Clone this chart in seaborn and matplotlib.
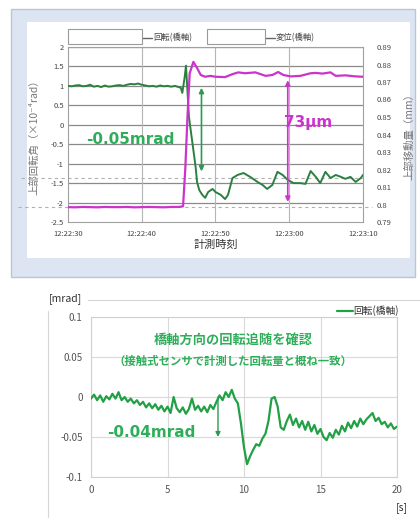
import matplotlib
matplotlib.use("Agg")
import matplotlib.pyplot as plt
from matplotlib.patches import Rectangle
from matplotlib.lines import Line2D
import seaborn as sns
import pandas as pd

# ---------------- upper chart: rotation / displacement vs. clock time ----------------
time_ticks = [0, 10, 20, 30, 40]
time_labels = ["12:22:30", "12:22:40", "12:22:50", "12:23:00", "12:23:10"]

rot_t = [0, 0.5, 1, 1.5, 2, 2.5, 3, 3.5, 4, 4.5, 5, 5.5, 6, 6.5, 7, 7.5, 8, 8.5, 9,
         9.5, 10, 10.5, 11, 11.5, 12, 12.5, 13, 13.5, 14, 14.5, 15, 15.3, 15.5, 15.8,
         16.0, 16.4, 17.0, 17.3, 17.5, 17.8, 18.2, 18.6, 19.0, 19.6, 20.0, 20.7, 21.3,
         21.7, 22.3, 23.0, 23.8, 24.7, 25.7, 26.4, 27.0, 27.7, 28.4, 29.1, 29.8, 30.6,
         31.5, 32.2, 32.9, 33.6, 34.2, 34.9, 35.6, 36.3, 37.0, 37.6, 38.3, 39.0, 39.7, 40.0]
rot_val = [1.00, 0.99, 1.01, 1.02, 0.99, 1.00, 1.03, 0.98, 1.00, 0.97, 1.01, 0.98, 0.99,
           1.01, 1.02, 1.00, 1.03, 1.05, 1.04, 1.06, 1.03, 1.01, 0.99, 1.00, 0.98, 1.01,
           0.99, 1.00, 0.98, 1.00, 0.97, 0.95, 0.82, 1.20, 1.52, 0.20, -0.65, -1.08,
           -1.47, -1.68, -1.80, -1.88, -1.73, -1.65, -1.73, -1.80, -1.91, -1.80, -1.37,
           -1.29, -1.24, -1.34, -1.47, -1.55, -1.65, -1.55, -1.21, -1.29, -1.42, -1.50,
           -1.50, -1.52, -1.19, -1.34, -1.50, -1.21, -1.37, -1.29, -1.34, -1.39, -1.34,
           -1.47, -1.37, -1.29]

disp_t = [0, 1, 2, 3, 4, 5, 6, 7, 8, 9, 10, 11, 12, 13, 14, 15, 15.6, 15.9, 16.2, 16.5,
          17.0, 17.5, 18.0, 18.6, 19.3, 20.0, 21.3, 22.3, 23.1, 24.0, 25.4, 26.8, 27.7,
          28.5, 29.2, 30.2, 31.5, 32.9, 33.6, 34.5, 35.6, 36.3, 37.6, 39.0, 40.0]
disp_val = [0.7985, 0.7984, 0.7986, 0.7985, 0.7984, 0.7986, 0.7985, 0.7985, 0.7986,
            0.7984, 0.7985, 0.7986, 0.7985, 0.7984, 0.7986, 0.7986, 0.7990, 0.8200,
            0.8500, 0.8750, 0.8815, 0.8780, 0.8740, 0.8730, 0.8735, 0.8730, 0.8728,
            0.8745, 0.8755, 0.8750, 0.8755, 0.8735, 0.8740, 0.8757, 0.8740, 0.8732,
            0.8735, 0.8750, 0.8752, 0.8748, 0.8755, 0.8735, 0.8738, 0.8732, 0.8730]

# ---------------- lower chart: rotation vs. elapsed seconds ----------------
sec_t = [round(i * 0.2, 1) for i in range(101)]
sec_rot = [-0.002, 0.003, -0.004, 0.002, -0.006, 0.001, -0.003, 0.004, -0.002, 0.006,
           -0.004, 0.000, -0.006, -0.002, -0.008, -0.004, -0.010, -0.006, -0.013, -0.008,
           -0.014, -0.009, -0.016, -0.011, -0.018, -0.012, -0.020, 0.000, -0.014, -0.019,
           -0.013, -0.021, -0.015, -0.002, -0.016, -0.011, -0.018, -0.012, -0.019, -0.010,
           -0.015, -0.006, 0.002, -0.004, 0.006, 0.000, 0.009, -0.002, -0.008, -0.033,
           -0.063, -0.084, -0.074, -0.066, -0.059, -0.061, -0.052, -0.046, -0.030, -0.002,
           0.000, -0.012, -0.038, -0.041, -0.030, -0.022, -0.035, -0.027, -0.038, -0.030,
           -0.041, -0.031, -0.043, -0.035, -0.046, -0.040, -0.050, -0.054, -0.045, -0.051,
           -0.041, -0.047, -0.036, -0.043, -0.032, -0.039, -0.030, -0.037, -0.027, -0.034,
           -0.028, -0.024, -0.020, -0.030, -0.026, -0.034, -0.031, -0.038, -0.033, -0.040,
           -0.037]

rot_step = 0.04          # value written next to the lower arrow [mrad]
disp_step_um = 73        # value written next to the upper magenta arrow [µm]

W, H = 420, 518
sns.set_theme(style="white")
plt.rcParams["font.family"] = ["Noto Sans CJK JP", "DejaVu Sans"]
plt.rcParams["axes.unicode_minus"] = False

fig = plt.figure(figsize=(W / 100, H / 100), dpi=100)
fig.patch.set_facecolor("white")


def px_axes(l, t, r, b):
    return fig.add_axes([l / W, 1 - b / H, (r - l) / W, (b - t) / H])


def px_rect(l, t, r, b, **kw):
    fig.patches.append(Rectangle((l / W, 1 - b / H), (r - l) / W, (b - t) / H,
                                 transform=fig.transFigure, **kw))


# panel backgrounds (behind every axes)
px_rect(11, 9, 415, 277, facecolor="#dde5f2", edgecolor="#b9c5da", lw=1.0, zorder=-3)
px_rect(27, 22, 410, 258, facecolor="white", edgecolor="none", zorder=-2)
px_rect(48, 300, 430, 540, facecolor="none", edgecolor="#d6d6d6", lw=0.8, zorder=-2)

GREEN_DARK = "#2b8040"
MAGENTA = "#cc33cc"
GREEN_TXT = "#2fae5a"

# ---------------- upper chart ----------------
ax1 = px_axes(68, 47, 363, 222)
ax1.set_facecolor("white")
ax2 = ax1.twinx()

df_rot = pd.DataFrame({"t": rot_t, "v": rot_val})
df_disp = pd.DataFrame({"t": disp_t, "v": disp_val})

ax1.set_xlim(0, 40)
ax1.set_ylim(-2.5, 2.0)
ax2.set_ylim(0.79, 0.89)

for y in [-2.0, -1.5, -1.0, -0.5, 0, 0.5, 1.0, 1.5, 2.0]:
    ax1.axhline(y, color="#8a8a8a", lw=0.9, zorder=1)
for x in [10, 20, 30]:
    ax1.axvline(x, color="#b5b5b5", lw=0.8, zorder=1)
ax1.axhline(-1.37, xmin=-0.16, xmax=1.0, color="#b0b0b0", lw=0.8, ls=(0, (3, 3)),
            clip_on=False, zorder=1)
ax1.axhline(-2.11, xmin=-0.17, xmax=1.03, color="#b0b0b0", lw=0.8, ls=(0, (3, 3)),
            clip_on=False, zorder=1)

sns.lineplot(data=df_disp, x="t", y="v", ax=ax2, color=MAGENTA, lw=1.6, zorder=3)
sns.lineplot(data=df_rot, x="t", y="v", ax=ax1, color=GREEN_DARK, lw=1.4, zorder=4)

ax1.set_xticks(time_ticks)
ax1.set_xticklabels(time_labels)
ax1.set_yticks([2, 1.5, 1, 0.5, 0, -0.5, -1, -1.5, -2, -2.5])
ax1.set_yticklabels(["2", "1.5", "1", "0.5", "0", "-0.5", "-1", "-1.5", "-2", "-2.5"])
ax2.set_yticks([0.79 + 0.01 * i for i in range(11)])
ax2.set_yticklabels([f"{0.79 + 0.01 * i:.2f}".rstrip("0") for i in range(11)])
for a in (ax1, ax2):
    a.tick_params(length=0, labelsize=5.5, labelcolor="#444444", pad=3)
ax1.tick_params(axis="x", pad=6)
ax2.tick_params(axis="y", pad=10)
for s in ax1.spines.values():
    s.set_color("#a0a0a0")
    s.set_linewidth(0.8)
for s in ax2.spines.values():
    s.set_visible(False)

ax1.set_xlabel("計測時刻", fontsize=8, color="#333333", labelpad=1)
ax1.set_ylabel("上部回転角（×10⁻⁴rad）", fontsize=7.5, color="#777777", labelpad=8)
ax2.set_ylabel("上部移動量（mm）", fontsize=7.5, color="#777777", rotation=90, labelpad=9)

# arrows and values
ax1.annotate("", xy=(18.1, -1.20), xytext=(18.1, 0.95),
             arrowprops=dict(arrowstyle="<|-|>", color="#2a9a55", lw=1.2,
                             mutation_scale=7, shrinkA=0, shrinkB=0), zorder=6)
ax1.text(8.4, -0.39, "-0.05mrad", color=GREEN_TXT, fontsize=11, fontweight="bold",
         ha="center", va="center", family=["DejaVu Sans"], zorder=6)
ax2.annotate("", xy=(29.8, 0.8015), xytext=(29.8, 0.871),
             arrowprops=dict(arrowstyle="<|-|>", color=MAGENTA, lw=1.2,
                             mutation_scale=7, shrinkA=0, shrinkB=0), zorder=6)
ax2.text(32.6, 0.8466, f"{disp_step_um}µm", color=MAGENTA, fontsize=11,
         fontweight="bold", ha="center", va="center", family=["DejaVu Sans"], zorder=6)

# legend row of the upper chart
px_rect(68, 29, 142, 44, facecolor="none", edgecolor="#9a9a9a", lw=0.8, zorder=2)
px_rect(207, 29, 265, 44, facecolor="none", edgecolor="#9a9a9a", lw=0.8, zorder=2)
for (x0, x1, label) in [(142, 152, "回転(橋軸)"), (265, 275, "変位(橋軸)")]:
    fig.add_artist(Line2D([x0 / W, x1 / W], [1 - 38 / H, 1 - 38 / H],
                          color="#666666", lw=1.0, transform=fig.transFigure))
    fig.text((x1 + 1) / W, 1 - 38 / H, label, fontsize=6, color="#444444",
             ha="left", va="center")

# ---------------- lower chart ----------------
ax3 = px_axes(91, 317, 397, 477)
ax3.set_facecolor("white")
df_sec = pd.DataFrame({"t": sec_t, "v": sec_rot})
ax3.set_xlim(0, 20)
ax3.set_ylim(-0.1, 0.1)
ax3.set_xticks([0, 5, 10, 15, 20])
ax3.set_yticks([0.1, 0.05, 0, -0.05, -0.1])
ax3.set_yticklabels(["0.1", "0.05", "0", "-0.05", "-0.1"])
ax3.grid(True, color="#d9d9d9", lw=0.8)
for s in ax3.spines.values():
    s.set_color("#d0d0d0")
    s.set_linewidth(0.8)
ax3.tick_params(length=0, labelsize=7, labelcolor="#555555", pad=6)
sns.lineplot(data=df_sec, x="t", y="v", ax=ax3, color="#22a045", lw=1.6, zorder=3,
             label="回転(橋軸)")
ax3.set_xlabel("")
ax3.set_ylabel("")
leg = ax3.legend(loc="lower right", bbox_to_anchor=(1.02, 0.98), frameon=False,
                 fontsize=7, handlelength=1.6, handletextpad=0.1, borderaxespad=0)
for t in leg.get_texts():
    t.set_color("#333333")

ax3.annotate("", xy=(8.3, -0.05), xytext=(8.3, 0.0),
             arrowprops=dict(arrowstyle="-|>", color="#2a9a55", lw=1.0,
                             mutation_scale=7, shrinkA=0, shrinkB=0), zorder=6)
ax3.text(3.95, -0.044, f"-{rot_step:.2f}mrad", color=GREEN_TXT, fontsize=11,
         fontweight="bold", ha="center", va="center", family=["DejaVu Sans"], zorder=6)
ax3.text(9.3, 0.072, "橋軸方向の回転追随を確認", color=GREEN_TXT, fontsize=9.5,
         fontweight="bold", ha="center", va="center", zorder=6)
ax3.text(9.3, 0.044, "（接触式センサで計測した回転量と概ね一致）", color=GREEN_TXT,
         fontsize=8.2, fontweight="bold", ha="center", va="center", zorder=6)

fig.text(65 / W, 1 - 299 / H, "[mrad]", fontsize=7.5, color="#333333", ha="center",
         va="center", backgroundcolor="white")
fig.text(402 / W, 1 - 508 / H, "[s]", fontsize=7.5, color="#333333", ha="center",
         va="center")

fig.savefig("out.png", dpi=100)
